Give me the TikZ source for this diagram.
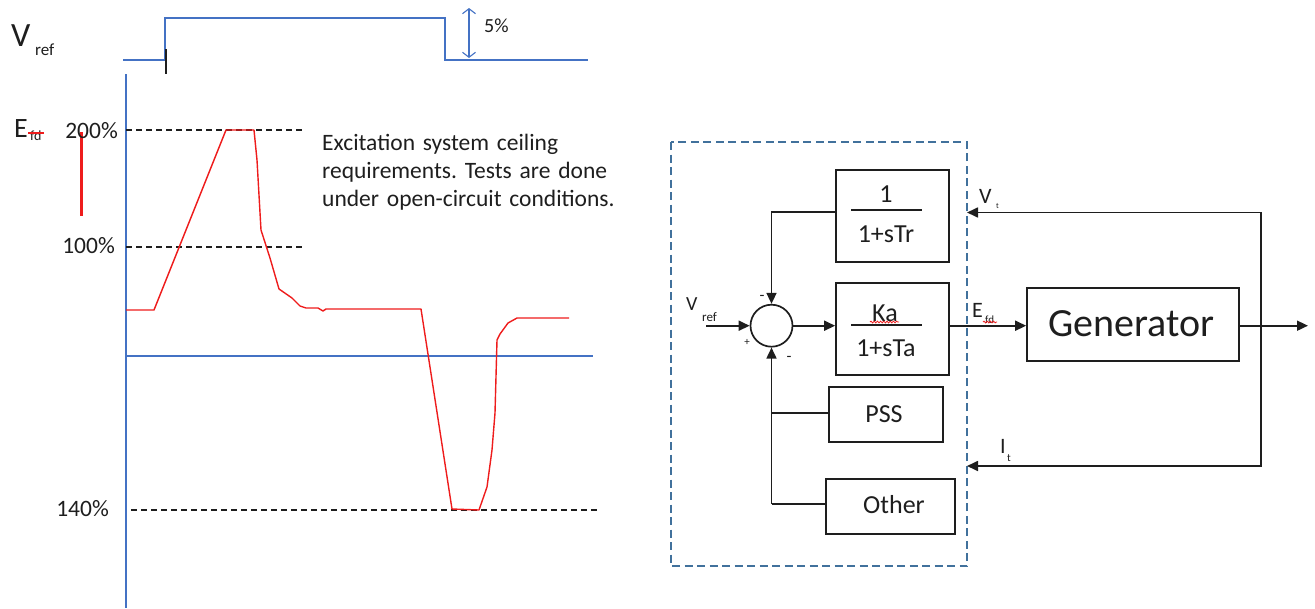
\documentclass[tikz,border=0pt]{standalone}
\usepackage{fontspec}
\setmainfont{Carlito}
\frenchspacing
\usetikzlibrary{arrows.meta,decorations.pathmorphing}
\definecolor{axblue}{HTML}{4472C4}
\definecolor{dblue}{HTML}{41719C}
\definecolor{cred}{HTML}{EE1C1C}
\definecolor{txt}{HTML}{1E1E1E}
\begin{document}
\begin{tikzpicture}[x=1pt,y=-1pt,
  ln/.style={line width=1.7pt, draw=txt},
  arr/.style={ln, -{Triangle[length=11pt,width=10pt]}},
  blk/.style={draw=txt, line width=1.7pt, inner sep=0pt},
  lbl/.style={text=txt, inner sep=0pt},
  dsh/.style={line width=1.3pt, draw=txt, dash pattern=on 6pt off 4pt},
  squig/.style={cred, line width=0.8pt, decorate, decoration={snake, amplitude=0.9pt, segment length=3.2pt}},
  fs/.style={font=\fontsize{#1}{#1}\selectfont}]
\useasboundingbox (0,0) rectangle (1315,608);

% ---------------- left chart ----------------
\draw[axblue, line width=1.8pt] (123,60) -- (165,60) -- (165,18) -- (445,18) -- (445,60) -- (588,60);
\draw[txt, line width=1.5pt] (166,49) -- (166,74);
\draw[axblue, line width=1.1pt, {Straight Barb[length=5pt,width=13pt]}-{Straight Barb[length=5pt,width=13pt]}] (469,8) -- (469,58);
\node[lbl, fs=20, anchor=west] (pct5) at (484,26) {5\%};
\node[lbl, fs=34, anchor=base west] (vrefL) at (11,46) {V};
\node[lbl, fs=17, anchor=base west] (vrefLs) at (35,55) {ref};

\draw[axblue, line width=1.5pt] (126,74) -- (126,608);
\draw[axblue, line width=1.5pt] (126,356) -- (593,356);

\node[lbl, fs=28, anchor=base west] (efdL) at (14,137) {E};
\node[lbl, fs=14, anchor=base west] (efdLs) at (30,140) {fd};
\draw[cred, line width=1.2pt] (28,133) -- (44,133);
\draw[cred, line width=3pt] (81,132) -- (81,216);

\draw[dsh] (126,130) -- (305,130);
\draw[dsh] (126,247) -- (305,247);
\draw[dsh] (131,510) -- (597,510);
\node[lbl, fs=23.5, anchor=east] (p200) at (118,131) {200\%};
\node[lbl, fs=23.5, anchor=east] (p100) at (115,246) {100\%};
\node[lbl, fs=23.5, anchor=east] (p140) at (109,509) {140\%};

\draw[cred, line width=1.4pt, line join=round]
  (126,310) -- (154,310) -- (226,130) -- (254,130) -- (257,160) -- (261,230)
  -- (270,258) -- (279,289) -- (292,298) -- (300,306) -- (306,308) -- (318,308)
  -- (323,311) -- (326,309) -- (421,309) -- (452,509) -- (479,510) -- (487,487)
  -- (492,450) -- (495,413) -- (497,340) -- (500,334) -- (508,323) -- (517,318) -- (569,318);

\node[lbl, anchor=north west, align=left, text width=300pt,
  font=\fontsize{23.5}{28}\selectfont] (note) at (322,134)
  {Excitation system ceiling\\requirements. Tests are done\\under open-circuit conditions.};

% ---------------- block diagram ----------------
\draw[dblue, line width=1.3pt, dash pattern=on 8pt off 4.5pt] (671,142) rectangle (967,566);

\node[blk, minimum width=113pt, minimum height=92pt] (tf1) at (892.5,216) {};
\node[blk, minimum width=113pt, minimum height=92pt] (tf2) at (892.5,329) {};
\node[blk, minimum width=114pt, minimum height=55pt] (pss) at (886,414.5) {};
\node[blk, minimum width=129pt, minimum height=55pt] (oth) at (890.5,506.5) {};
\node[blk, minimum width=212pt, minimum height=73pt] (gen) at (1133,324.5) {};
\node[draw=txt, line width=1.7pt, circle, minimum size=42pt, inner sep=0pt] (sum) at (771.5,325.7) {};

\node[lbl, fs=26] (n1) at (886,194) {1};
\draw[line width=1.3pt, txt] (851,210) -- (922,210);
\node[lbl, fs=26] (d1) at (886,234) {1+sTr};
\node[lbl, fs=26] (n2) at (885,313) {Ka};
\draw[squig] (870,322) -- (899,322);
\draw[line width=1.3pt, txt] (851,325) -- (922,325);
\node[lbl, fs=26] (d2) at (886,348) {1+sTa};
\node[lbl, fs=26] (tpss) at (884,414) {PSS};
\node[lbl, fs=26] (toth) at (894,505) {Other};
\node[lbl, fs=40] (tgen) at (1131,324) {Generator};

\coordinate (vin) at (706,325.7);
\draw[arr] (vin) -- (sum.west);
\node[lbl, fs=20, anchor=base west] (vrefR) at (686,310) {V};
\node[lbl, fs=13, anchor=base west] (vrefRs) at (702,321) {ref};
\draw[arr] (sum.east) -- (sum -| tf2.west);
\draw[arr] (tf1.west |- 0,212) -| (sum.north);
\coordinate (bot) at (771.5,504);
\draw[ln] (oth.west |- bot) -- (bot);
\draw[ln] (pss.west |- 0,413) -- (771.5,413);
\draw[arr] (bot) -- (sum.south);
\node[lbl, fs=16] (m1) at (762,298) {-};
\node[lbl, fs=11] (pl) at (747,342) {+};
\node[lbl, fs=16] (m2) at (789,359) {-};

\draw[arr] (sum -| tf2.east) -- (sum -| gen.west);
\node[lbl, fs=22, anchor=base west] (efdR) at (972,317) {E};
\node[lbl, fs=11, anchor=base west] (efdRs) at (985,323) {fd};
\draw[squig] (983,322) -- (997,322);

\coordinate (fb) at (1261,325.7);
\coordinate (out) at (1308,325.7);
\draw[arr] (sum -| gen.east) -- (out);
\coordinate (vtend) at (967,212.5);
\coordinate (itend) at (967,466);
\draw[arr] (fb) |- (vtend);
\draw[arr] (fb) |- (itend);
\node[lbl, fs=22, anchor=base west] (vt) at (979,203) {V};
\node[lbl, fs=8, anchor=base west] (vts) at (996,208) {t};
\node[lbl, fs=22, anchor=base west] (it) at (1000,453) {I};
\node[lbl, fs=11, anchor=base west] (its) at (1007,461) {t};
\end{tikzpicture}
\end{document}
